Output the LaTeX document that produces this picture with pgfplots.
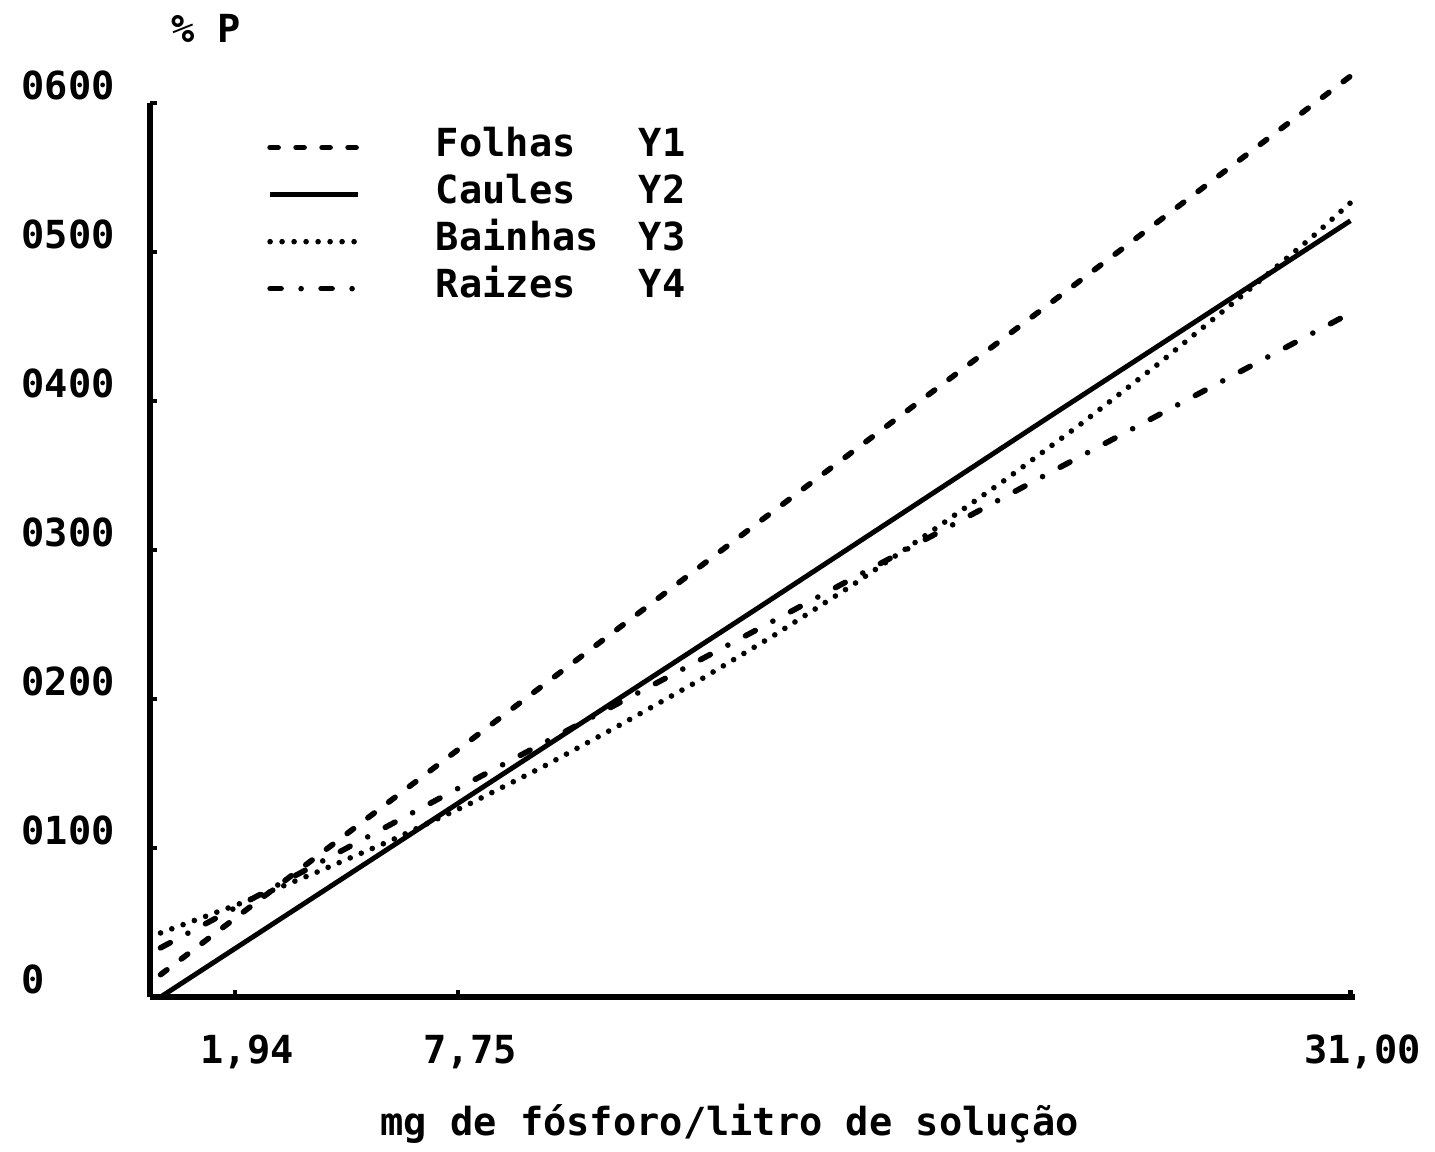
\documentclass[border=0pt]{standalone}
\usepackage{fontspec}
\setmainfont{DejaVu Sans Mono}
\usepackage{pgfplots}
\pgfplotsset{compat=1.18}
\begin{document}
\bfseries\fontsize{11}{13}\selectfont
\begin{tikzpicture}
\begin{axis}[
  width=120.5mm, height=89.4mm, scale only axis,
  xmin=-0.275, xmax=31.12, ymin=0, ymax=0.6,
  clip=false,
  axis x line*=bottom, axis y line*=left,
  axis line style={-, line width=1.5pt},
  tick align=inside, major tick length=0.7mm,
  every tick/.style={black, line width=1.2pt},
  xtick={1.94,7.75,31}, xticklabels={{1,94},{7,75},{31,00}},
  ytick={0,0.1,0.2,0.3,0.4,0.5,0.6},
  yticklabels={0,0100,0200,0300,0400,0500,0600},
  /pgf/number format/assume math mode=true,
  xticklabel style={anchor=base, inner sep=0pt, yshift=-6.6mm, xshift=1.2mm},
  yticklabel style={anchor=base west, inner sep=0pt, xshift=-12.9mm, yshift=0.4mm},
  xlabel={mg de fósforo/litro de solução},
  xlabel style={at={(axis description cs:0.481,0)}, anchor=base, inner sep=0pt, yshift=-13.8mm},
  legend image code/.code={\draw[#1] (0mm,0mm) -- (8.8mm,0mm);},
  legend style={draw=none, fill=none, at={(axis description cs:0.088,0.985)}, anchor=north west,
    cells={anchor=west}, nodes={inner sep=0pt, text height=3.2mm, text depth=1.5mm}, row sep=0pt},
]
% Folhas Y1
\addplot[black, line width=1.6pt, line cap=round, dash pattern=on 0.8mm off 1.8mm] coordinates {
 (0,0.015) (7.75,0.166) (15.5,0.317) (23.25,0.467) (31,0.618)};
\addlegendentry{\hspace*{7.5mm}\makebox[20.3mm][l]{Folhas}Y1}
% Caules Y2
\addplot[black, line width=1.4pt] coordinates {
 (0,0) (7.75,0.130) (15.5,0.260) (23.25,0.391) (31,0.521)};
\addlegendentry{\hspace*{7.5mm}\makebox[20.3mm][l]{Caules}Y2}
% Bainhas Y3
\addplot[black, line width=1.6pt, line cap=round, dash pattern=on 0pt off 1.2mm] coordinates {
 (0,0.043) (2,0.062) (4,0.083) (6,0.105) (8,0.129) (10,0.155) (12,0.183) (14,0.212)
 (16,0.243) (18,0.276) (20,0.311) (22,0.347) (24,0.385) (26,0.425) (28,0.467) (30,0.510) (31,0.533)};
\addlegendentry{\hspace*{7.5mm}\makebox[20.3mm][l]{Bainhas}Y3}
% Raizes Y4
\addplot[black, line width=1.6pt, line cap=round, dash pattern=on 1.1mm off 2mm on 0pt off 2mm] coordinates {
 (0,0.033) (7.75,0.140) (15.5,0.246) (23.25,0.353) (31,0.459)};
\addlegendentry{\hspace*{7.5mm}\makebox[20.3mm][l]{Raizes}Y4}
\node[anchor=center, inner sep=0pt] at (axis description cs:0.0465,1.084) {\% P};
\end{axis}
\pgfresetboundingbox
\path[use as bounding box] (-15mm,-15.4mm) rectangle (128.5mm,99.7mm);
\end{tikzpicture}
\end{document}
